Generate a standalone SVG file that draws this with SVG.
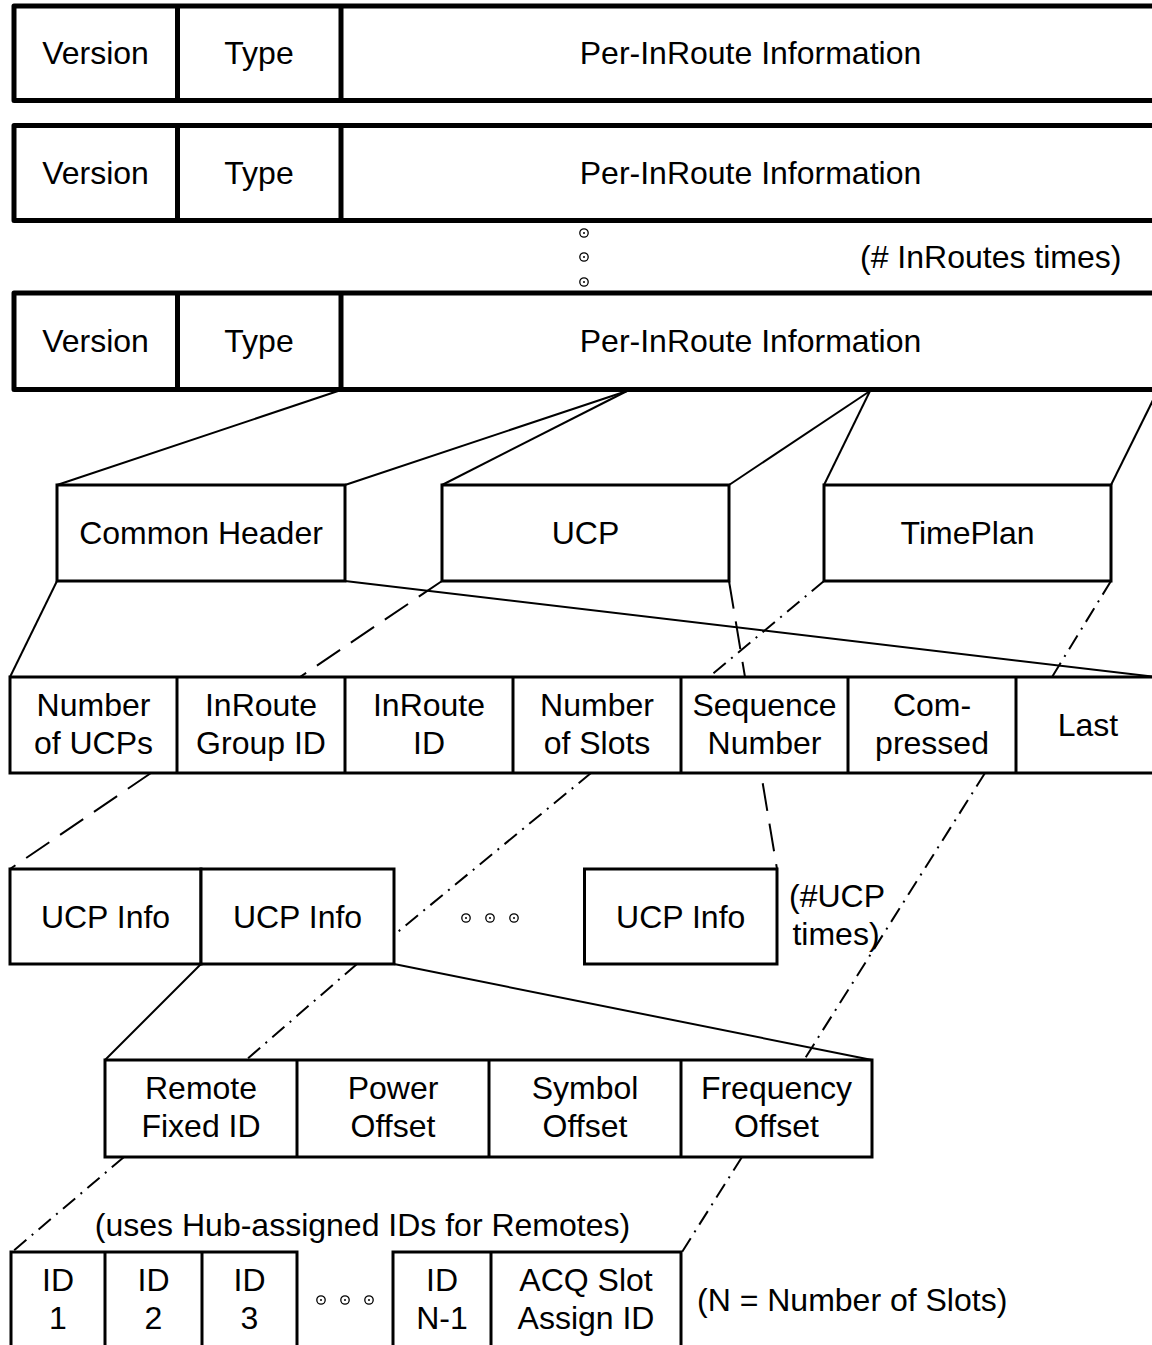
<svg xmlns="http://www.w3.org/2000/svg" width="1152" height="1345" viewBox="0 0 1152 1345">
<style>
.thick{fill:#fff;stroke:#000;stroke-width:5;stroke-linejoin:round}
.thickl{stroke:#000;stroke-width:5}
.box{fill:#fff;stroke:#000;stroke-width:3}
.ln{stroke:#000;stroke-width:3}
.t{font-family:"Liberation Sans",Arial,sans-serif;font-size:32px;text-anchor:middle;fill:#000}
.ts{font-family:"Liberation Sans",Arial,sans-serif;font-size:32px;text-anchor:start;fill:#000}
.c{stroke:#000;stroke-width:2;fill:none}
.dash{stroke-dasharray:28 13}
.dd{stroke-dasharray:16 7 2 7}
.o{fill:#fff;stroke:#000;stroke-width:1.3}
</style>
<defs>
<g id="dot"><circle class="o" r="4.2"/><circle r="1" fill="#000"/></g>
</defs>
<rect width="1152" height="1345" fill="#fff"/>

<g id="connectors">
<line class="c" x1="341" y1="390" x2="57" y2="485"/>
<line class="c" x1="627" y1="391" x2="345" y2="485"/>
<line class="c" x1="627" y1="391" x2="442" y2="485"/>
<line class="c" x1="870" y1="391" x2="729" y2="485"/>
<line class="c" x1="870" y1="391" x2="824" y2="485"/>
<line class="c" x1="1158" y1="390" x2="1111" y2="485"/>
<line class="c" x1="57" y1="581" x2="10" y2="677"/>
<line class="c" x1="345" y1="581" x2="1156" y2="677"/>
<line class="c dash" x1="442" y1="581" x2="300" y2="677"/>
<line class="c dash" x1="729" y1="581" x2="777" y2="869"/>
<line class="c dd" x1="824" y1="581" x2="709" y2="677"/>
<line class="c dd" x1="1111" y1="581" x2="1052" y2="677"/>
<line class="c dash" x1="151" y1="773" x2="10" y2="869"/>
<line class="c dd" x1="591" y1="773" x2="394" y2="935"/>
<line class="c dd" x1="985" y1="773" x2="804" y2="1060"/>
<line class="c" x1="201" y1="964" x2="105" y2="1060"/>
<line class="c dd" x1="357" y1="964" x2="246" y2="1060"/>
<line class="c" x1="394" y1="964" x2="872" y2="1060"/>
<line class="c dd" x1="124" y1="1157" x2="12" y2="1252"/>
<line class="c dd" x1="742" y1="1157" x2="682" y2="1252"/>
</g>

<g id="row1">
<rect class="thick" x="14" y="6" width="1146" height="94.5"/>
<line class="thickl" x1="177.5" y1="6" x2="177.5" y2="100.5"/>
<line class="thickl" x1="341" y1="6" x2="341" y2="100.5"/>
<text class="t" x="95.5" y="64">Version</text>
<text class="t" x="259" y="64">Type</text>
<text class="t" x="750.5" y="64">Per-InRoute Information</text>
</g>

<g id="row2">
<rect class="thick" x="14" y="125.5" width="1146" height="95"/>
<line class="thickl" x1="177.5" y1="125.5" x2="177.5" y2="220.5"/>
<line class="thickl" x1="341" y1="125.5" x2="341" y2="220.5"/>
<text class="t" x="95.5" y="184">Version</text>
<text class="t" x="259" y="184">Type</text>
<text class="t" x="750.5" y="184">Per-InRoute Information</text>
</g>

<g id="repeat-note">
<use href="#dot" x="584" y="233"/>
<use href="#dot" x="584" y="257"/>
<use href="#dot" x="584" y="282"/>
<text class="ts" x="860" y="268">(# InRoutes times)</text>
</g>

<g id="row3">
<rect class="thick" x="14" y="293" width="1146" height="96.5"/>
<line class="thickl" x1="177.5" y1="293" x2="177.5" y2="389.5"/>
<line class="thickl" x1="341" y1="293" x2="341" y2="389.5"/>
<text class="t" x="95.5" y="352">Version</text>
<text class="t" x="259" y="352">Type</text>
<text class="t" x="750.5" y="352">Per-InRoute Information</text>
</g>

<g id="common-header">
<rect class="box" x="57" y="485" width="288" height="96"/>
<text class="t" x="201" y="544">Common Header</text>
</g>
<g id="ucp">
<rect class="box" x="442" y="485" width="287" height="96"/>
<text class="t" x="585.5" y="544">UCP</text>
</g>
<g id="timeplan">
<rect class="box" x="824" y="485" width="287" height="96"/>
<text class="t" x="967.5" y="544">TimePlan</text>
</g>

<g id="header-fields">
<rect class="box" x="10" y="677" width="1150" height="96"/>
<line class="ln" x1="177" y1="677" x2="177" y2="773"/>
<line class="ln" x1="345" y1="677" x2="345" y2="773"/>
<line class="ln" x1="513" y1="677" x2="513" y2="773"/>
<line class="ln" x1="681" y1="677" x2="681" y2="773"/>
<line class="ln" x1="848" y1="677" x2="848" y2="773"/>
<line class="ln" x1="1016" y1="677" x2="1016" y2="773"/>
<text class="t" x="93.5" y="715.5">Number</text>
<text class="t" x="93.5" y="753.5">of UCPs</text>
<text class="t" x="261" y="715.5">InRoute</text>
<text class="t" x="261" y="753.5">Group ID</text>
<text class="t" x="429" y="715.5">InRoute</text>
<text class="t" x="429" y="753.5">ID</text>
<text class="t" x="597" y="715.5">Number</text>
<text class="t" x="597" y="753.5">of Slots</text>
<text class="t" x="764.5" y="715.5">Sequence</text>
<text class="t" x="764.5" y="753.5">Number</text>
<text class="t" x="932" y="715.5">Com-</text>
<text class="t" x="932" y="753.5">pressed</text>
<text class="t" x="1088" y="736">Last</text>
</g>

<g id="ucp-info-1">
<rect class="box" x="10" y="869" width="191" height="95"/>
<text class="t" x="105.5" y="928">UCP Info</text>
</g>
<g id="ucp-info-2">
<rect class="box" x="201" y="869" width="193" height="95"/>
<text class="t" x="297.5" y="928">UCP Info</text>
</g>
<g id="ucp-ellipsis">
<use href="#dot" x="466" y="918"/>
<use href="#dot" x="490" y="918"/>
<use href="#dot" x="514" y="918"/>
</g>
<g id="ucp-info-n">
<rect class="box" x="584.5" y="869" width="192.5" height="95"/>
<text class="t" x="680.7" y="928">UCP Info</text>
</g>
<g id="ucp-note">
<text class="t" x="837" y="907">(#UCP</text>
<text class="t" x="836" y="945">times)</text>
</g>

<g id="ucp-info-fields">
<rect class="box" x="105" y="1060" width="767" height="97"/>
<line class="ln" x1="297" y1="1060" x2="297" y2="1157"/>
<line class="ln" x1="489" y1="1060" x2="489" y2="1157"/>
<line class="ln" x1="681" y1="1060" x2="681" y2="1157"/>
<text class="t" x="201" y="1099">Remote</text>
<text class="t" x="201" y="1137">Fixed ID</text>
<text class="t" x="393" y="1099">Power</text>
<text class="t" x="393" y="1137">Offset</text>
<text class="t" x="585" y="1099">Symbol</text>
<text class="t" x="585" y="1137">Offset</text>
<text class="t" x="776.5" y="1099">Frequency</text>
<text class="t" x="776.5" y="1137">Offset</text>
</g>

<g id="hub-note">
<text class="t" x="362.5" y="1236">(uses Hub-assigned IDs for Remotes)</text>
</g>

<g id="slot-ids-a">
<rect class="box" x="11" y="1252" width="286" height="120"/>
<line class="ln" x1="105" y1="1252" x2="105" y2="1372"/>
<line class="ln" x1="202" y1="1252" x2="202" y2="1372"/>
<text class="t" x="58" y="1291">ID</text>
<text class="t" x="58" y="1329">1</text>
<text class="t" x="153.5" y="1291">ID</text>
<text class="t" x="153.5" y="1329">2</text>
<text class="t" x="249.5" y="1291">ID</text>
<text class="t" x="249.5" y="1329">3</text>
</g>
<g id="slot-ellipsis">
<use href="#dot" x="321" y="1300"/>
<use href="#dot" x="345" y="1300"/>
<use href="#dot" x="369" y="1300"/>
</g>
<g id="slot-ids-b">
<rect class="box" x="393" y="1252" width="288" height="120"/>
<line class="ln" x1="491" y1="1252" x2="491" y2="1372"/>
<text class="t" x="442" y="1291">ID</text>
<text class="t" x="442" y="1329">N-1</text>
<text class="t" x="586" y="1291">ACQ Slot</text>
<text class="t" x="586" y="1329">Assign ID</text>
</g>
<g id="n-note">
<text class="ts" x="697" y="1311">(N = Number of Slots)</text>
</g>
</svg>
